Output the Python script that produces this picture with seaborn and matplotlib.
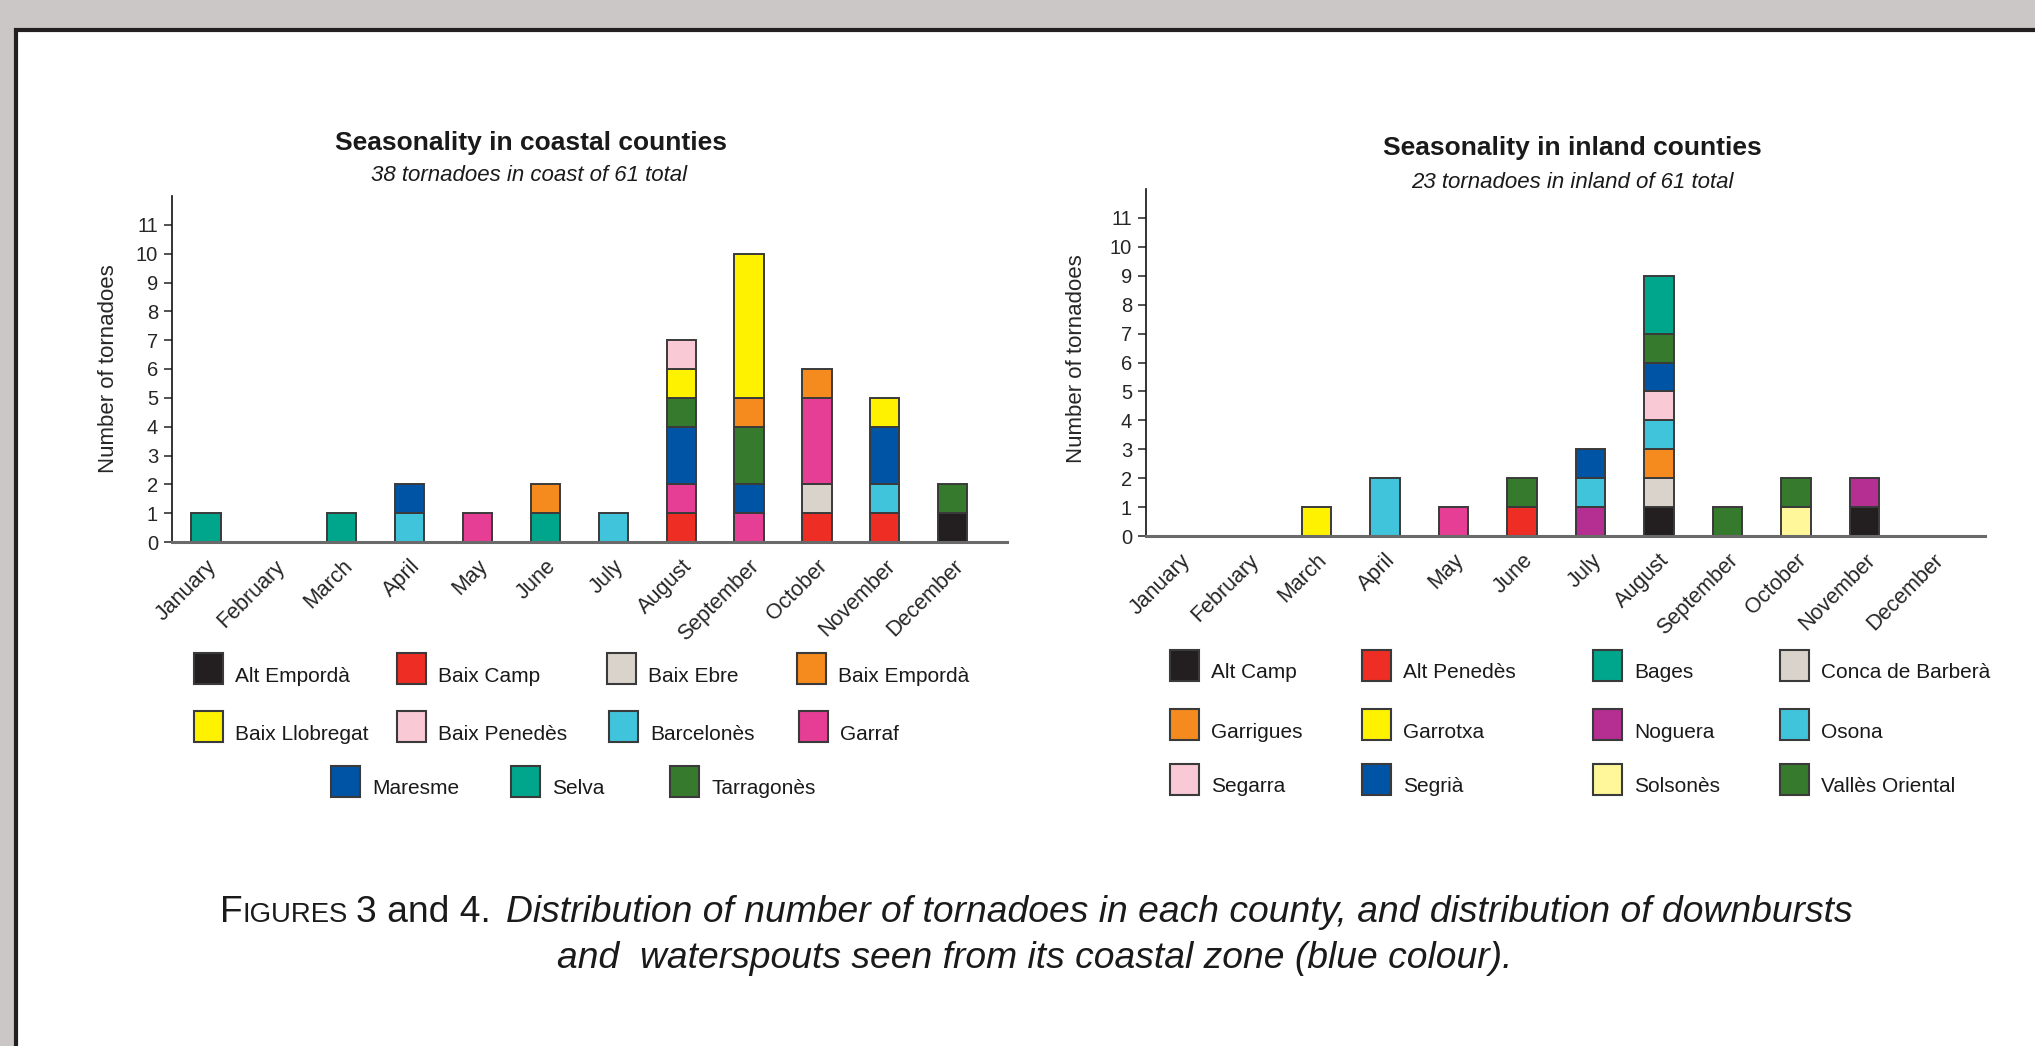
import matplotlib
matplotlib.use("Agg")
import matplotlib.pyplot as plt
import numpy as np
import pandas as pd
import seaborn as sns
from matplotlib.offsetbox import AnnotationBbox, HPacker, TextArea
from matplotlib.patches import Rectangle

MONTHS = ["January", "February", "March", "April", "May", "June", "July",
          "August", "September", "October", "November", "December"]

# coastal counties: tornadoes per month
alt_emporda = [0, 0, 0, 0, 0, 0, 0, 0, 0, 0, 0, 1]
baix_camp = [0, 0, 0, 0, 0, 0, 0, 1, 0, 1, 1, 0]
baix_ebre = [0, 0, 0, 0, 0, 0, 0, 0, 0, 1, 0, 0]
baix_emporda = [0, 0, 0, 0, 0, 1, 0, 0, 1, 1, 0, 0]
baix_llobregat = [0, 0, 0, 0, 0, 0, 0, 1, 5, 0, 1, 0]
baix_penedes = [0, 0, 0, 0, 0, 0, 0, 1, 0, 0, 0, 0]
barcelones = [0, 0, 0, 1, 0, 0, 1, 0, 0, 0, 1, 0]
garraf = [0, 0, 0, 0, 1, 0, 0, 1, 1, 3, 0, 0]
maresme = [0, 0, 0, 1, 0, 0, 0, 2, 1, 0, 2, 0]
selva = [1, 0, 1, 0, 0, 1, 0, 0, 0, 0, 0, 0]
tarragones = [0, 0, 0, 0, 0, 0, 0, 1, 2, 0, 0, 1]

# inland counties: tornadoes per month
alt_camp = [0, 0, 0, 0, 0, 0, 0, 1, 0, 0, 1, 0]
alt_penedes = [0, 0, 0, 0, 0, 1, 0, 0, 0, 0, 0, 0]
bages = [0, 0, 0, 0, 0, 0, 0, 2, 0, 0, 0, 0]
conca_barbera = [0, 0, 0, 0, 0, 0, 0, 1, 0, 0, 0, 0]
garrigues = [0, 0, 0, 0, 0, 0, 0, 1, 0, 0, 0, 0]
garrotxa = [0, 0, 1, 0, 0, 0, 0, 0, 0, 0, 0, 0]
noguera = [0, 0, 0, 0, 0, 0, 1, 0, 0, 0, 1, 0]
osona = [0, 0, 0, 2, 0, 0, 1, 1, 0, 0, 0, 0]
segarra = [0, 0, 0, 0, 0, 0, 0, 1, 0, 0, 0, 0]
segria = [0, 0, 0, 0, 0, 0, 1, 1, 0, 0, 0, 0]
solsones = [0, 0, 0, 0, 0, 0, 0, 0, 0, 1, 0, 0]
valles_oriental = [0, 0, 0, 0, 0, 1, 0, 1, 1, 1, 0, 0]
unlisted_pink = [0, 0, 0, 0, 1, 0, 0, 0, 0, 0, 0, 0]  # May bar, drawn pink, not in legend

coastal = {
    "Alt Empordà": alt_emporda, "Baix Camp": baix_camp, "Baix Ebre": baix_ebre,
    "Baix Empordà": baix_emporda, "Baix Llobregat": baix_llobregat,
    "Baix Penedès": baix_penedes, "Barcelonès": barcelones, "Garraf": garraf,
    "Maresme": maresme, "Selva": selva, "Tarragonès": tarragones,
}
inland = {
    "Alt Camp": alt_camp, "Alt Penedès": alt_penedes, "Bages": bages,
    "Conca de Barberà": conca_barbera, "Garrigues": garrigues, "Garrotxa": garrotxa,
    "Noguera": noguera, "Osona": osona, "Segarra": segarra, "Segrià": segria,
    "Solsonès": solsones, "Vallès Oriental": valles_oriental, "_pink": unlisted_pink,
}

coastal_stack = ["Alt Empordà", "Baix Camp", "Baix Ebre", "Barcelonès", "Garraf", "Maresme",
                 "Selva", "Tarragonès", "Baix Empordà", "Baix Llobregat", "Baix Penedès"]
inland_stack = ["Alt Camp", "Alt Penedès", "Noguera", "Solsonès", "Conca de Barberà",
                "Garrigues", "Osona", "Segarra", "Segrià", "Vallès Oriental", "Bages",
                "Garrotxa", "_pink"]

BLACK, RED, GREY, ORANGE = "#231f20", "#ee2d24", "#d9d3cc", "#f58b1f"
YELLOW, PINK, CYAN, MAGENTA = "#fff200", "#f9c9d6", "#40c4dc", "#e63e95"
BLUE, TEAL, GREEN, PURPLE, PALEYEL = "#0054a6", "#00a68c", "#367a2d", "#b52e91", "#fff799"

coastal_colors = {
    "Alt Empordà": BLACK, "Baix Camp": RED, "Baix Ebre": GREY, "Baix Empordà": ORANGE,
    "Baix Llobregat": YELLOW, "Baix Penedès": PINK, "Barcelonès": CYAN, "Garraf": MAGENTA,
    "Maresme": BLUE, "Selva": TEAL, "Tarragonès": GREEN,
}
inland_colors = {
    "Alt Camp": BLACK, "Alt Penedès": RED, "Bages": TEAL, "Conca de Barberà": GREY,
    "Garrigues": ORANGE, "Garrotxa": YELLOW, "Noguera": PURPLE, "Osona": CYAN,
    "Segarra": PINK, "Segrià": BLUE, "Solsonès": PALEYEL, "Vallès Oriental": GREEN,
    "_pink": MAGENTA,
}

W, H = 2035, 1046
EDGE = "#3a3a3a"


def fx(px):
    return px / W


def fy(py):
    return 1 - py / H


def draw_stacked(ax, series, stack_order, colors):
    bottom = np.zeros(len(MONTHS))
    for name in stack_order:
        vals = np.asarray(series[name], dtype=float)
        mask = vals > 0
        if mask.any():
            df = pd.DataFrame({"month": np.array(MONTHS)[mask], "count": vals[mask]})
            sns.barplot(data=df, x="month", y="count", order=MONTHS, color=colors[name],
                        saturation=1, width=0.43, errorbar=None, bottom=bottom[mask],
                        edgecolor=EDGE, linewidth=1.4, ax=ax)
        bottom += vals


def style_axes(ax, xlim, label_pos):
    ax.set_xlim(*xlim)
    ax.set_ylim(0, 12)
    ax.set_yticks(range(12))
    ax.set_xticks(range(12))
    ax.set_xticklabels(MONTHS, rotation=45, ha="right", rotation_mode="anchor", fontsize=15.5)
    ax.tick_params(axis="x", length=0, pad=10)
    ax.tick_params(axis="y", length=6, width=1.1, pad=4, labelsize=14.5, color="#222222")
    ax.set_xlabel("")
    ax.set_ylabel("Number of tornadoes", fontsize=16)
    ax.yaxis.set_label_coords(*label_pos)
    for side in ["top", "right"]:
        ax.spines[side].set_visible(False)
    ax.spines["left"].set_color("#111111")
    ax.spines["left"].set_linewidth(1.2)
    ax.spines["bottom"].set_color("#6a6a6a")
    ax.spines["bottom"].set_linewidth(2.2)
    ax.patch.set_alpha(0)


def draw_legend(fig, names, colors, rows_x, rows_y):
    i = 0
    for xs, yc in zip(rows_x, rows_y):
        for x in xs:
            name = names[i]
            fig.add_artist(Rectangle((fx(x), fy(yc + 15.5)), 29 / W, 31 / H,
                                     transform=fig.transFigure, facecolor=colors[name],
                                     edgecolor=EDGE, linewidth=1.5))
            fig.text(fx(x + 41), fy(yc + 8), name, fontsize=15, va="center", ha="left",
                     color="#1a1a1a")
            i += 1


sns.set_style("ticks")
plt.rcParams["font.family"] = ["Liberation Sans", "DejaVu Sans"]

fig = plt.figure(figsize=(W / 100, H / 100), dpi=100)
fig.patch.set_facecolor("#cbc7c6")
fig.add_artist(Rectangle((fx(16), -0.1), 1.2, fy(30) + 0.1, transform=fig.transFigure,
                         facecolor="white", edgecolor=BLACK, linewidth=3, zorder=-5))

ax1 = fig.add_axes([fx(172), fy(542), (1007 - 172) / W, (542 - 196) / H])
draw_stacked(ax1, coastal, coastal_stack, coastal_colors)
style_axes(ax1, (-0.50, 11.80), (-0.064, 0.5))

ax2 = fig.add_axes([fx(1146), fy(536), (1985 - 1146) / W, (536 - 189) / H])
draw_stacked(ax2, inland, inland_stack, inland_colors)
style_axes(ax2, (-0.49, 11.76), (-0.070, 0.51))

fig.text(fx(531), fy(143), "Seasonality in coastal counties", fontsize=19, fontweight="bold",
         ha="center", va="center", color="#1a1a1a")
fig.text(fx(529), fy(175), "38 tornadoes in coast of 61 total", fontsize=16, style="italic",
         ha="center", va="center", color="#1a1a1a")
fig.text(fx(1572), fy(148), "Seasonality in inland counties", fontsize=19, fontweight="bold",
         ha="center", va="center", color="#1a1a1a")
fig.text(fx(1572), fy(182), "23 tornadoes in inland of 61 total", fontsize=16, style="italic",
         ha="center", va="center", color="#1a1a1a")

coastal_legend = ["Alt Empordà", "Baix Camp", "Baix Ebre", "Baix Empordà", "Baix Llobregat",
                  "Baix Penedès", "Barcelonès", "Garraf", "Maresme", "Selva", "Tarragonès"]
inland_legend = ["Alt Camp", "Alt Penedès", "Bages", "Conca de Barberà", "Garrigues",
                 "Garrotxa", "Noguera", "Osona", "Segarra", "Segrià", "Solsonès",
                 "Vallès Oriental"]
draw_legend(fig, coastal_legend, coastal_colors,
            [[194, 397, 607, 797], [194, 397, 609, 799], [331, 511, 670]], [668, 726, 781])
draw_legend(fig, inland_legend, inland_colors,
            [[1170, 1362, 1593, 1780]] * 3, [665, 724, 779])

# caption with small caps "FIGURES"
cap_size = 26.8
txt = dict(size=cap_size, color="#1a1a1a")
small = dict(size=cap_size * 0.74, color="#1a1a1a")
ital = dict(size=cap_size, color="#1a1a1a", style="italic")
word = HPacker(children=[TextArea("F", textprops=txt), TextArea("IGURES", textprops=small)],
               align="baseline", pad=0, sep=0)
lead = HPacker(children=[word, TextArea("3 and 4.", textprops=txt)], align="baseline", pad=0, sep=6)
line1 = HPacker(children=[lead, TextArea("Distribution of number of tornadoes in each county, "
                                          "and distribution of downbursts", textprops=ital)],
                align="baseline", pad=0, sep=11)
fig.add_artist(AnnotationBbox(line1, (fx(1036), fy(913)), xycoords="figure fraction",
                              frameon=False, box_alignment=(0.5, 0.5), pad=0))
fig.text(fx(1035), fy(958), "and  waterspouts seen from its coastal zone (blue colour).",
         fontsize=cap_size, style="italic", ha="center", va="center", color="#1a1a1a")

fig.savefig("out.png", dpi=100, facecolor=fig.get_facecolor())
